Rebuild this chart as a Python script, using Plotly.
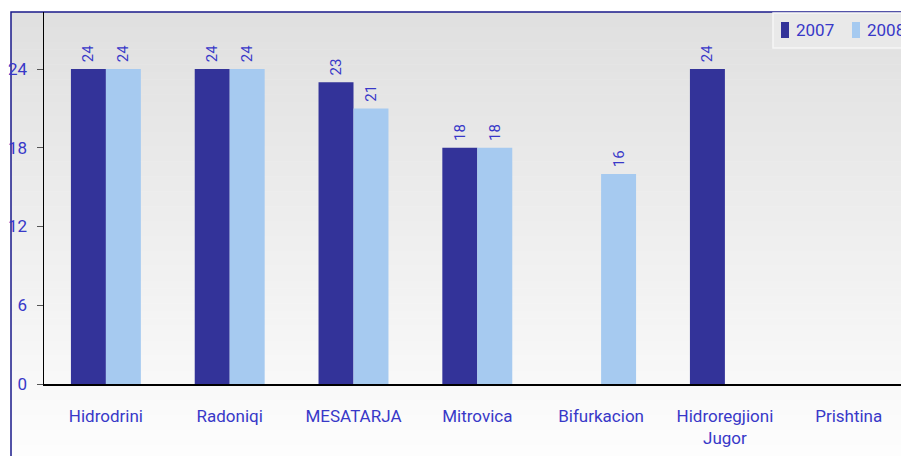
import plotly.graph_objects as go

categories = ["Hidrodrini", "Radoniqi", "MESATARJA", "Mitrovica", "Bifurkacion", "Hidroregjioni<br>Jugor", "Prishtina"]
series_names = ["2007", "2008"]
values_2007 = [24, 24, 23, 18, None, 24, None]
values_2008 = [24, 24, 21, 18, 16, None, None]
y_ticks = [0, 6, 12, 18, 24]

dark = "#333399"
light = "#a6caf0"
txt = "#3838c8"
font_family = "Roboto, Liberation Sans Narrow, sans-serif"

W, H = 901, 456
L, R, T, B = 44, 0, 12, 72
pw, ph = W - L - R, H - T - B

def px_x(p):
    return (p - L) / pw

def px_y(p):
    return (H - B - p) / ph

fig = go.Figure()
for name, vals, col in [(series_names[0], values_2007, dark), (series_names[1], values_2008, light)]:
    fig.add_trace(go.Bar(
        x=list(range(len(categories))), y=vals, name=name, marker=dict(color=col, line=dict(width=0)),
        text=["\u00a0" + str(v) if v is not None else "" for v in vals], textposition="outside", textangle=-90,
        textfont=dict(color=txt, size=15, family=font_family), cliponaxis=False, showlegend=False,
        hoverinfo="skip",
    ))

shapes = []
# gradient background
n = 60
y_top, y_bot = 12, 460
for i in range(n):
    a = y_top + (y_bot - y_top) * i / n
    b = y_top + (y_bot - y_top) * (i + 1) / n + 0.5
    t = i / (n - 1)
    c0, c1 = 0xE0, 0xFD
    v = int(round(c0 + (c1 - c0) * t))
    col = f"rgb({v},{v},{v})"
    shapes.append(dict(type="rect", xref="paper", yref="paper", x0=px_x(11), x1=px_x(910),
                       y0=px_y(b), y1=px_y(a), fillcolor=col, line=dict(width=0), layer="below"))
# frame
shapes.append(dict(type="rect", xref="paper", yref="paper", x0=px_x(11), x1=px_x(930),
                   y0=px_y(480), y1=px_y(12), fillcolor="rgba(0,0,0,0)",
                   line=dict(color="#1a1a8a", width=1.5), layer="below"))
# legend box
shapes.append(dict(type="rect", xref="paper", yref="paper", x0=px_x(773), x1=px_x(920),
                   y0=px_y(48), y1=px_y(13), fillcolor="#e9e9e9",
                   line=dict(color="#f6f6f6", width=1.5), layer="above"))
shapes.append(dict(type="rect", xref="paper", yref="paper", x0=px_x(781), x1=px_x(789),
                   y0=px_y(38), y1=px_y(22), fillcolor=dark, line=dict(width=0), layer="above"))
shapes.append(dict(type="rect", xref="paper", yref="paper", x0=px_x(852), x1=px_x(860),
                   y0=px_y(38), y1=px_y(22), fillcolor=light, line=dict(width=0), layer="above"))

annotations = [
    dict(text=series_names[0], xref="paper", yref="paper", x=px_x(794), y=px_y(30), xanchor="left",
         yanchor="middle", showarrow=False, font=dict(color=txt, size=17, family=font_family)),
    dict(text=series_names[1], xref="paper", yref="paper", x=px_x(865), y=px_y(30), xanchor="left",
         yanchor="middle", showarrow=False, font=dict(color=txt, size=17, family=font_family)),
]

fig.update_layout(
    width=W, height=H, margin=dict(l=L, r=R, t=T, b=B),
    paper_bgcolor="white", plot_bgcolor="rgba(0,0,0,0)",
    barmode="group", bargap=0.435, bargroupgap=0,
    shapes=shapes, annotations=annotations, showlegend=False,
    font=dict(family=font_family, color=txt, size=15),
)
fig.update_xaxes(
    range=[-0.5, -0.5 + pw / 123.8], tickmode="array", tickvals=list(range(len(categories))),
    ticktext=categories, showgrid=False, zeroline=False, showline=True, linecolor="black", linewidth=1.5,
    ticks="", tickfont=dict(size=17, color=txt, family=font_family), ticklabelstandoff=16,
    tickangle=0,
)
fig.update_yaxes(
    range=[0, ph / 13.125], tickmode="array", tickvals=y_ticks, ticktext=[str(v) for v in y_ticks],
    showgrid=False, zeroline=False, showline=True, linecolor="black", linewidth=1.5,
    ticks="outside", ticklen=6, tickcolor="#555555", tickfont=dict(size=17, color=txt, family=font_family),
    ticklabelstandoff=6,
)
fig.write_html("out.html", config={"displayModeBar": False, "staticPlot": True},
               post_script="document.body.style.margin='0';document.body.style.overflow='hidden';")
